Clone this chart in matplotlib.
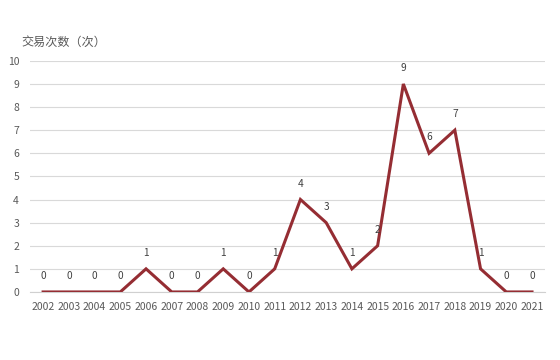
import matplotlib
matplotlib.use('Agg')
import matplotlib.pyplot as plt

plt.rcParams['font.family'] = ['Noto Sans CJK SC', 'DejaVu Sans']

# 数据
years = [str(y) for y in range(2002, 2022)]
counts = [0, 0, 0, 0, 1, 0, 0, 1, 0, 1, 4, 3, 1, 2, 9, 6, 7, 1, 0, 0]
y_ticks = list(range(0, 11))

fig = plt.figure(figsize=(5.6, 3.6), dpi=100)
ax = fig.add_axes([0.054, 0.189, 0.919, 0.642])

x = list(range(len(years)))
ax.plot(x, counts, color='#952D33', linewidth=2.2, solid_joinstyle='miter', zorder=3)

# 数据标签
for xi, v in zip(x, counts):
    ax.annotate(str(v), (xi, v), xytext=(0, 11.5), textcoords='offset points',
                ha='center', va='center', fontsize=7.3, color='#404040')

ax.set_xlim(-0.5, len(years) - 0.5)
ax.set_ylim(0, 10)
ax.set_yticks(y_ticks)
ax.set_xticks(x)
ax.set_xticklabels(years)
ax.tick_params(axis='both', length=0, labelsize=7.5, colors='#595959')
ax.tick_params(axis='x', pad=7)
ax.tick_params(axis='y', pad=8)

ax.grid(axis='y', color='#d9d9d9', linewidth=0.8)
ax.set_axisbelow(True)
for s in ['top', 'right', 'left']:
    ax.spines[s].set_visible(False)
ax.spines['bottom'].set_color('#d0d0d0')

fig.text(0.039, 0.883, '交易次数（次）', fontsize=8.7, color='#595959', ha='left', va='center')

fig.savefig('out.png', dpi=100)
